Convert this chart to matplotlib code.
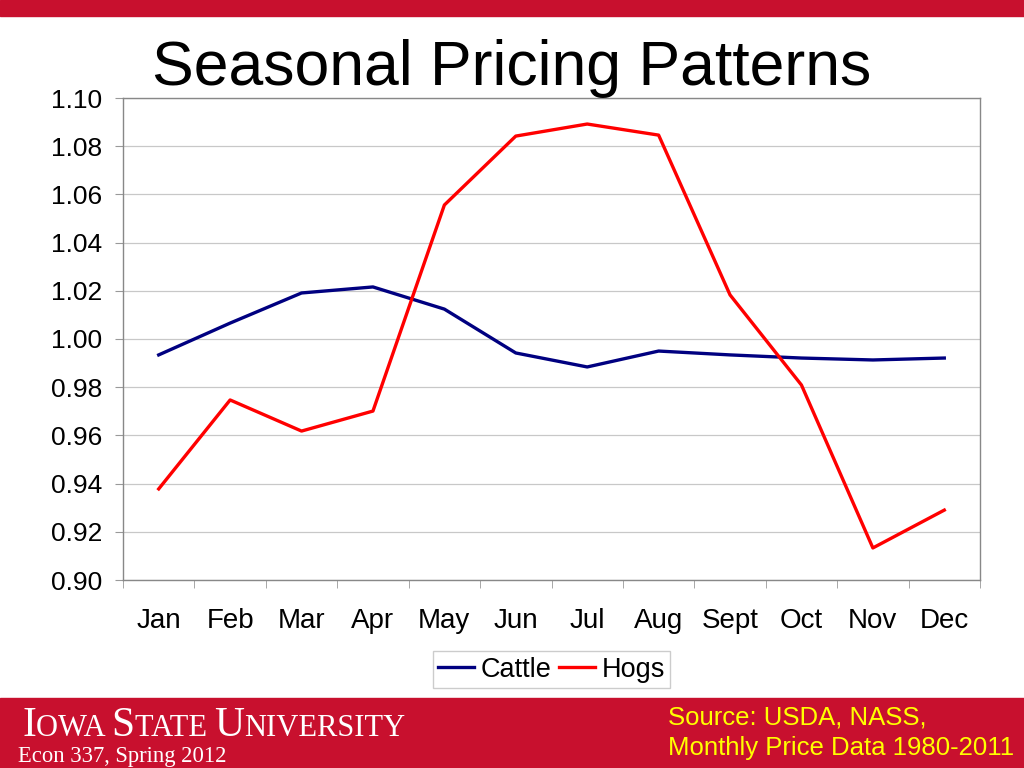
import matplotlib
matplotlib.use("Agg")
import matplotlib.pyplot as plt
from matplotlib.patches import Rectangle
import numpy as np

months = ["Jan", "Feb", "Mar", "Apr", "May", "Jun", "Jul", "Aug", "Sept", "Oct", "Nov", "Dec"]
cattle = [0.9934, 1.0066, 1.0191, 1.0216, 1.0124, 0.9942, 0.9884, 0.9950, 0.9934, 0.9921, 0.9913, 0.9921]
hogs = [0.9378, 0.9747, 0.9618, 0.9701, 1.0556, 1.0842, 1.0892, 1.0846, 1.0183, 0.9809, 0.9133, 0.9290]
yticks = [0.90, 0.92, 0.94, 0.96, 0.98, 1.00, 1.02, 1.04, 1.06, 1.08, 1.10]

W, H = 1024, 768
fig = plt.figure(figsize=(W / 100, H / 100), dpi=100)
RED = "#C8102E"
SANS = ["Liberation Sans", "DejaVu Sans"]

# Banners
fig.patches.append(Rectangle((0, 1 - 16 / H), 1, 16 / H, transform=fig.transFigure, color=RED, zorder=0))
fig.patches.append(Rectangle((0, 0), 1, 70 / H, transform=fig.transFigure, color=RED, zorder=0))

# Axes
l, r, t, b = 123, 980, 98, 580
ax = fig.add_axes([l / W, 1 - b / H, (r - l) / W, (b - t) / H])
x = np.arange(len(months))
ax.plot(x, cattle, color="#000080", lw=2.4, label="Cattle", solid_joinstyle="round")
ax.plot(x, hogs, color="#FF0000", lw=2.4, label="Hogs", solid_joinstyle="round")
ax.set_xlim(-0.5, len(months) - 0.5)
ax.set_ylim(0.90, 1.10)
ax.set_yticks(yticks)
ax.set_yticklabels([f"{v:.2f}" for v in yticks], fontsize=19, family=SANS)
ax.set_xticks(x)
ax.set_xticklabels(months, fontsize=20, family=SANS)
ax.tick_params(axis="x", length=0, pad=20)
ax.set_xticks(np.arange(-0.5, len(months)), minor=True)
ax.tick_params(axis="x", which="minor", length=6, color="#999999", direction="out")
ax.tick_params(axis="y", length=6, color="#999999", direction="out", pad=9)
ax.grid(axis="y", color="#c8c8c8", lw=0.9)
ax.set_axisbelow(True)
for s in ax.spines.values():
    s.set_color("#888888")
    s.set_linewidth(1.0)

leg = ax.legend(loc="upper center", bbox_to_anchor=(0.5, -0.148), ncol=2, frameon=True,
                fancybox=False, prop={"family": SANS, "size": 19.5}, handlelength=1.3,
                handletextpad=0.25, columnspacing=0.3, borderpad=0.2, borderaxespad=0)
leg.get_frame().set_edgecolor("#c0c0c0")
leg.get_frame().set_linewidth(1.0)

# Title
fig.text(512 / W, 1 - 85 / H, "Seasonal Pricing Patterns", ha="center", va="baseline",
         fontsize=45, family=SANS, color="black")

# Footer left: small-caps university name
SERIF = ["Liberation Serif", "DejaVu Serif"]
parts = [("I", 30), ("OWA ", 22), ("S", 30), ("TATE ", 22), ("U", 30), ("NIVERSITY", 22)]
renderer = fig.canvas.get_renderer()
xpos = 22
for txt, sz in parts:
    tt = fig.text(xpos / W, 1 - 736 / H, txt, fontsize=sz, family=SERIF,
                  color="white", ha="left", va="baseline")
    bb = tt.get_window_extent(renderer=renderer)
    xpos = bb.x1
fig.text(18 / W, 1 - 762 / H, "Econ 337, Spring 2012", fontsize=16.3, family=SERIF,
         color="white", ha="left", va="baseline")

NARROW = ["Liberation Sans Narrow", "Liberation Sans", "DejaVu Sans"]
fig.text(668 / W, 1 - 725 / H, "Source: USDA, NASS,", fontsize=18.5, family=NARROW,
         color="#FFFF00", ha="left", va="baseline")
fig.text(668 / W, 1 - 755 / H, "Monthly Price Data 1980-2011", fontsize=18.5, family=NARROW,
         color="#FFFF00", ha="left", va="baseline")

fig.savefig("out.png", dpi=100)
